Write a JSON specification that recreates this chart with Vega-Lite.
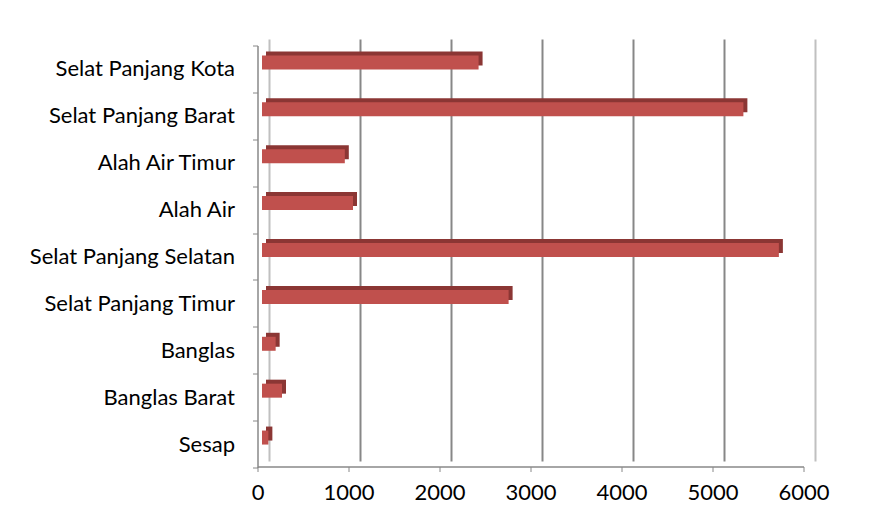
{
  "$schema": "https://vega.github.io/schema/vega-lite/v6.json",
  "width": 546,
  "height": 422,
  "autosize": {"type": "none"},
  "padding": {"left": 269, "top": 39, "right": 60, "bottom": 70},
  "background": "white",
  "config": {"view": {"stroke": null}, "font": "Lato"},
  "data": {
    "values": [
      {"kecamatan": "Selat Panjang Kota", "jumlah": 2380},
      {"kecamatan": "Selat Panjang Barat", "jumlah": 5290},
      {"kecamatan": "Alah Air Timur", "jumlah": 910},
      {"kecamatan": "Alah Air", "jumlah": 1000},
      {"kecamatan": "Selat Panjang Selatan", "jumlah": 5680},
      {"kecamatan": "Selat Panjang Timur", "jumlah": 2710},
      {"kecamatan": "Banglas", "jumlah": 150},
      {"kecamatan": "Banglas Barat", "jumlah": 220},
      {"kecamatan": "Sesap", "jumlah": 70}
    ]
  },
  "encoding": {
    "y": {
      "field": "kecamatan",
      "type": "nominal",
      "sort": null,
      "scale": {"paddingInner": 0, "paddingOuter": 0},
      "axis": {
        "title": null,
        "translate": 7,
        "offset": 18,
        "domainColor": "#888888",
        "domainWidth": 1.5,
        "tickColor": "#888888",
        "tickSize": 5,
        "tickBand": "extent",
        "labelFontSize": 22,
        "labelColor": "#000000",
        "labelPadding": 18,
        "labelLimit": 400
      }
    }
  },
  "layer": [
    {
      "mark": {"type": "bar", "height": 14, "yOffset": -4, "xOffset": -3, "color": "#8B3634"},
      "encoding": {
        "x": {
          "field": "jumlah",
          "type": "quantitative",
          "scale": {"domain": [0, 6000], "nice": false},
          "axis": {
            "orient": "top",
            "grid": true,
            "labels": false,
            "ticks": false,
            "domain": false,
            "title": null,
            "values": [0, 1000, 2000, 3000, 4000, 5000, 6000],
            "gridWidth": 2,
            "gridColor": {"condition": {"test": "datum.value === 6000 || datum.value === 0", "value": "#c0c0c0"}, "value": "#878787"}
          }
        }
      }
    },
    {
      "mark": {"type": "bar", "height": 14, "yOffset": 0, "xOffset": -7, "color": "#C0504D"},
      "encoding": {
        "x": {
          "field": "jumlah",
          "type": "quantitative",
          "axis": {
            "orient": "bottom",
            "grid": false,
            "title": null,
            "translate": -11,
            "offset": 17,
            "values": [0, 1000, 2000, 3000, 4000, 5000, 6000],
            "format": "d",
            "labelFlush": false,
            "domainColor": "#888888",
            "domainWidth": 1.5,
            "tickColor": "#888888",
            "tickSize": 5,
            "labelFontSize": 22,
            "labelColor": "#000000",
            "labelPadding": 11
          }
        }
      }
    }
  ],
  "resolve": {"axis": {"x": "independent"}}
}
